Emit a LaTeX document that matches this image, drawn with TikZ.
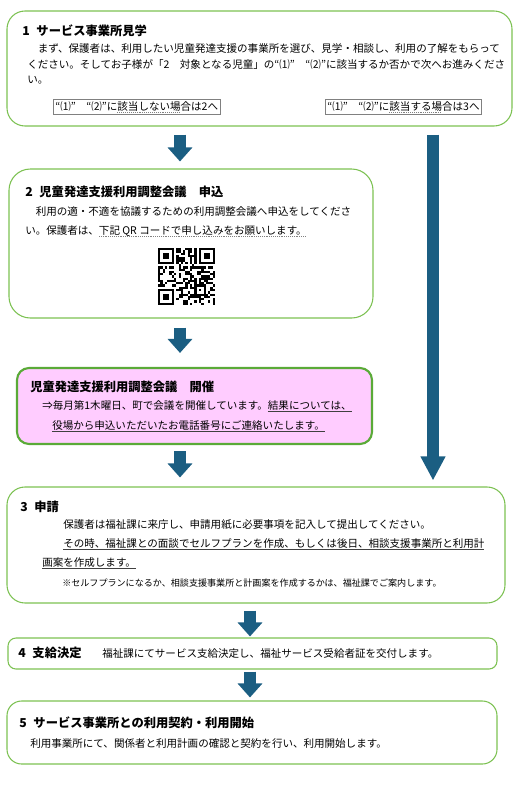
\documentclass[tikz,border=0pt]{standalone}
\usepackage{fontspec}
\setmainfont{Noto Sans CJK JP}
\usetikzlibrary{positioning,fit,arrows.meta}

\definecolor{boxgreen}{HTML}{7CC152}
\definecolor{darkgreen}{HTML}{5AAA38}
\definecolor{pinkfill}{HTML}{FFCCFF}
\definecolor{flowblue}{HTML}{1B5E82}

% underlines used in the flow text
\newcommand\dotul[1]{\setbox0=\hbox{#1}\rlap{\color{gray}\raisebox{-2pt}{\hbox to \wd0{\xleaders\hbox to 1.4pt{\vrule width 0.7pt height 0.4pt\hss}\hfill}}}\box0}
\newcommand\solul[1]{\setbox0=\hbox{#1}\rlap{\color{darkgray}\raisebox{-2pt}{\vrule width \wd0 height 0.45pt depth 0pt}}\box0}

\tikzset{
  stepbox/.style={draw=boxgreen, line width=0.8pt, inner sep=0pt},
  choicebox/.style={draw=gray, line width=0.5pt, anchor=west, inner xsep=1.5pt, inner ysep=1.5pt, font=\fontsize{7.9}{9}\selectfont},
  txt/.style={anchor=west, inner sep=0pt, font=\fontsize{7.9}{9}\selectfont},
  note/.style={anchor=west, inner sep=0pt, font=\fontsize{6.8}{8}\selectfont},
  ttl/.style={anchor=west, inner sep=0pt, font=\fontsize{9.2}{11}\selectfont\bfseries},
  flow/.style={draw=flowblue, line width=9pt, -{Triangle[width=18pt,length=10.5pt]}},
  bigflow/.style={draw=flowblue, line width=9pt, -{Triangle[width=17.5pt,length=18pt]}},
}

\begin{document}
\begin{tikzpicture}[x=0.75pt, y=-0.75pt]
\useasboundingbox (0,0) rectangle (517,800);

% step 1
\node[stepbox, rounded corners=13.5pt, fit={(7,11) (512,126)}] (box1) {};
\node[ttl] (t1) at (22,31) {1\hspace{0.55em}サービス事業所見学};
\node[txt] (l1a) at (27,48) {　まず、保護者は、利用したい児童発達支援の事業所を選び、見学・相談し、利用の了解をもらって};
\node[txt] (l1b) at (27,64) {ください。そしてお子様が「2　対象となる児童」の“⑴”　“⑵”に該当するか否かで次へお進みくださ};
\node[txt] (l1c) at (27,80) {い。};
\node[choicebox] (no) at (53,107) {“⑴”　“⑵”に\dotul{該当しない場}合は2へ};
\node[choicebox] (yes) at (325,107) {“⑴”　“⑵”に\dotul{該当する場}合は3へ};

% step 2
\node[stepbox, rounded corners=16pt, fit={(9,169) (373,318)}] (box2) {};
\node[ttl] (t2) at (25,192) {2\hspace{0.55em}児童発達支援利用調整会議　申込};
\node[txt] (l2a) at (25,212) {　利用の適・不適を協議するための利用調整会議へ申込をしてくださ};
\node[txt] (l2b) at (25,231) {い。保護者は、\dotul{下記 QR コードで申し込みをお願いします。}};

% QR code
\def\qx{158}
\def\qy{248}
\def\qm{2.28}
\foreach \fx/\fy in {0/0,18/0,0/18}{
  \fill (\qx+\fx*\qm,\qy+\fy*\qm) rectangle ++(7*\qm,7*\qm);
  \fill[white] (\qx+\fx*\qm+\qm,\qy+\fy*\qm+\qm) rectangle ++(5*\qm,5*\qm);
  \fill (\qx+\fx*\qm+2*\qm,\qy+\fy*\qm+2*\qm) rectangle ++(3*\qm,3*\qm);
}
\fill (\qx+16*\qm,\qy+16*\qm) rectangle ++(5*\qm,5*\qm);
\fill[white] (\qx+17*\qm,\qy+17*\qm) rectangle ++(3*\qm,3*\qm);
\fill (\qx+18*\qm,\qy+18*\qm) rectangle ++(\qm,\qm);
\foreach \k in {8,10,...,16}{
  \fill (\qx+\k*\qm,\qy+6*\qm) rectangle ++(\qm,\qm);
  \fill (\qx+6*\qm,\qy+\k*\qm) rectangle ++(\qm,\qm);
}
\pgfmathsetseed{4242}
\foreach \i in {0,...,24}{
  \foreach \j in {0,...,24}{
    \pgfmathtruncatemacro\qrfree{((\i<8 && \j<8) || (\i>16 && \j<8) || (\i<8 && \j>16) || (\i>15 && \i<21 && \j>15 && \j<21) || \i==6 || \j==6) ? 0 : 1}
    \pgfmathtruncatemacro\qrdot{rnd<0.5 ? 1 : 0}
    \ifnum\qrfree\qrdot=11 \fill (\qx+\i*\qm,\qy+\j*\qm) rectangle ++(\qm,\qm); \fi
  }
}

% meeting
\node[draw=darkgreen, line width=1.6pt, fill=pinkfill, rounded corners=9pt, inner sep=0pt, fit={(17,368) (372,444)}] (meet) {};
\node[ttl] (tm) at (30,387) {児童発達支援利用調整会議　開催};
\node[txt] (lma) at (42,406) {⇒毎月第1木曜日、町で会議を開催しています。\solul{結果については、}};
\node[txt] (lmb) at (52,426) {\solul{役場から申込いただいたお電話番号にご連絡いたします。}};

% step 3
\node[stepbox, rounded corners=13.5pt, fit={(7,487) (505,603)}] (box3) {};
\node[ttl] (t3) at (20,507) {3\hspace{0.55em}申請};
\node[txt] (l3a) at (63,525) {保護者は福祉課に来庁し、申請用紙に必要事項を記入して提出してください。};
\node[txt] (l3b) at (63,544) {\solul{その時、福祉課との面談でセルフプランを作成、もしくは後日、相談支援事業所と利用計}};
\node[txt] (l3c) at (42,563) {\solul{画案を作成します。}};
\node[note] (l3d) at (62,583) {※セルフプランになるか、相談支援事業所と計画案を作成するかは、福祉課でご案内します。};

% step 4
\node[stepbox, rounded corners=6pt, fit={(8,638) (497,669)}] (box4) {};
\node[ttl] (t4) at (18,653) {4\hspace{0.55em}支給決定};
\node[txt] (l4) at (102,653) {福祉課にてサービス支給決定し、福祉サービス受給者証を交付します。};

% step 5
\node[stepbox, rounded corners=11pt, fit={(7,701) (497,764)}] (box5) {};
\node[ttl] (t5) at (19,723) {5\hspace{0.55em}サービス事業所との利用契約・利用開始};
\node[txt] (l5) at (30,744) {利用事業所にて、関係者と利用計画の確認と契約を行い、利用開始します。};

% arrows
\coordinate (left) at (180,0);
\coordinate (right) at (433,0);
\coordinate (mid) at (250,0);
\draw[flow, shorten <=6pt, shorten >=5.25pt] (box1.south -| left) -- (box2.north -| left);
\draw[flow, shorten <=6.75pt, shorten >=10.5pt] (box2.south -| left) -- (meet.north -| left);
\draw[flow, shorten <=4.5pt, shorten >=6.75pt] (meet.south -| left) -- (box3.north -| left);
\draw[bigflow, shorten <=6pt, shorten >=4.5pt] (box1.south -| right) -- (box3.north -| right);
\draw[flow, shorten <=5.25pt, shorten >=0.75pt] (box3.south -| mid) -- (box4.north -| mid);
\draw[flow, shorten <=1.5pt, shorten >=2.25pt] (box4.south -| mid) -- (box5.north -| mid);

\end{tikzpicture}
\end{document}
